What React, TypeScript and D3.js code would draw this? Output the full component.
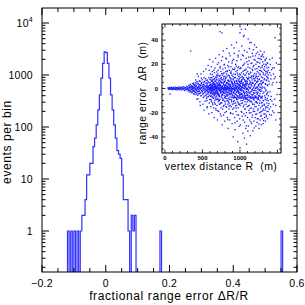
import React from "react";
import * as d3 from "d3";

// ---------- data ----------
const histStart = -0.125;
const histWidth = 0.005;
const histCounts = [0, 1, 0, 1, 0, 1, 0, 1, 0, 1, 2, 2, 4, 12, 12, 20, 20, 42, 61, 110, 213, 415, 870, 1670, 2800, 2700, 1670, 870, 415, 213, 110, 61, 35, 30, 25, 12, 4, 4, 4, 1, 0, 2, 1, 2, 0];
const outlierBins = [0.17, 0.55];
const outlierCounts = [1, 1];

const xTickValues = [-0.2, 0, 0.2, 0.4, 0.6];
const xTickLabels = ["\u22120.2", "0", "0.2", "0.4", "0.6"];
const yTickValues = [1, 10, 100, 1000, 10000];
const yTickLabels = ["1", "10", "100", "1000", "10^4"];
const insetXTicks = [0, 500, 1000];
const insetYTicks = [-40, -20, 0, 20, 40];

// inset scatter: pairs of [vertex distance R (m), range error dR (m)]
const scatterPts = [
  40,0.5, 45,-0.3, 50,0.2, 55,-0.8, 60,0.9, 65,-0.2, 67,-4.5, 70,0.4, 75,-0.6, 80,0.1, 85,1.0, 90,-0.4, 95,0.3, 100,-1.1, 105,0.6, 110,-0.2, 115,0.8, 120,-0.7, 125,0.2, 130,-0.3, 135,1.2, 140,-0.9, 145,0.4, 150,-0.1, 155,0.7, 160,-1.3, 165,0.3, 170,-0.5, 175,1.1, 180,-0.2, 185,0.6, 190,-1.0, 195,0.2, 200,-0.6, 205,1.3, 210,-0.4, 215,0.5, 220,-1.2, 225,0.9, 230,-0.1, 235,0.4, 240,-0.8, 245,1.5, 250,-0.3, 255,0.2, 260,-1.6, 265,1.0, 270,-0.5, 275,0.7, 280,-1.1, 285,0.3, 290,1.8, 295,-0.9, 300,0.1,
  305,1.2, 308,-2.1, 312,0.4, 315,-0.9, 318,2.6, 322,-1.5, 325,0.8, 328,-3.0, 331,1.9, 334,-0.3, 337,3.4, 340,-1.8, 343,31, 343,0.6, 346,-2.7, 349,1.4, 352,-0.5, 355,2.2, 358,-3.6, 361,0.9, 364,-1.2, 367,4.1, 370,-0.7, 373,1.7, 376,-2.4, 379,0.2, 382,3.0, 385,-4.2, 388,1.1, 391,-0.4, 394,2.8, 397,-1.9, 400,0.5, 403,-3.3, 406,4.6, 409,-0.8, 412,1.6, 415,-5.0, 418,2.3, 421,-1.4, 424,0.3, 427,3.7, 430,-2.6, 430,12, 433,1.0, 436,-0.2, 439,5.3, 440,-8.5, 442,-3.9, 445,0.7, 448,2.0, 451,-1.1, 454,-4.5, 457,3.2, 460,0.1, 463,-2.2, 466,1.8, 469,6.0, 470,-14, 472,-0.6, 475,-3.5, 478,2.5, 480,12, 481,0.9, 484,-5.8, 487,4.0, 490,-1.6, 493,0.4, 496,2.9, 499,-2.8, 502,1.3, 505,-0.9, 508,5.1, 511,-4.1, 514,0.6, 517,3.5, 520,-1.8, 520,9, 520,-18, 523,-6.3, 526,2.1, 529,0.2, 532,-3.0, 535,4.4, 538,-0.5, 541,1.6, 544,-2.5, 547,6.8, 550,-4.8, 553,0.9, 556,2.7, 559,-1.3, 560,-10, 560,-16, 562,-7.0, 565,3.9, 568,0.3, 571,-2.0, 574,5.6, 577,-3.6, 580,1.2, 583,-0.7, 586,4.8, 589,-5.5, 590,-12, 590,15, 592,2.4, 595,-1.0, 598,7.5,
  352,2.4, 357,-0.8, 361,-3.1, 366,1.5, 371,0.2, 377,-1.9, 383,4.4, 387,-4.9, 392,0.9, 398,-2.6, 401,3.1, 407,-0.3, 413,2.0, 419,-3.7, 422,5.5, 428,-1.2, 434,0.6, 437,-5.6, 444,3.9, 449,-2.3, 455,1.1, 458,6.4, 464,-3.9, 468,-0.1, 473,2.8, 479,-6.1, 483,4.7, 488,0.5, 494,-2.0, 497,7.2, 503,-4.6, 507,1.9, 512,-7.4, 516,3.0, 521,0.0, 527,5.8, 531,-3.4, 536,-1.1, 540,8.1, 545,-5.9, 549,2.2, 554,-8.3, 557,4.5, 561,-0.6, 566,6.9, 570,-4.4, 575,1.4, 579,-6.8, 584,9.0, 588,-2.7, 593,0.7, 596,-9.2,
  410,7, 425,-9, 445,10, 465,-11, 485,8.5, 505,-13, 515,14, 535,-10.5, 545,16, 565,-15, 575,19, 585,-21, 595,24,
  552,-1.5, 558,0.8, 563,2.1, 569,-2.6, 574,-0.4, 580,1.9, 585,-3.1, 591,0.3, 597,2.7, 602,-1.2, 608,3.4, 613,-3.8, 619,0.6, 624,-0.9, 630,2.4, 635,-2.0, 641,4.1, 646,0.1, 652,-4.3, 657,1.5, 663,-0.6, 668,3.0, 674,-2.9, 679,0.9, 685,-1.8, 690,4.6, 696,-3.4, 701,1.2, 707,-0.2, 712,2.8, 718,-4.8, 723,0.4, 729,3.7, 734,-1.6, 740,-3.0, 745,1.8, 751,4.9, 756,-0.8, 762,-2.3, 767,2.2, 773,0.0, 778,-4.0, 784,3.3, 789,-1.1, 795,5.2, 800,-3.7, 806,0.7, 811,2.6, 817,-2.1, 822,4.3, 828,-5.0, 833,1.0, 839,-0.5, 844,3.8, 850,-3.2, 855,5.6, 861,-1.4, 866,0.2, 872,-4.4, 877,2.9, 883,-2.6, 888,4.7, 894,-0.9, 899,-5.4, 905,1.7, 910,3.6, 916,-3.0, 921,0.5, 927,5.9, 932,-1.9, 938,-4.6, 943,2.3, 949,-0.3, 954,4.0, 960,-5.7, 965,1.4, 971,-2.4, 976,6.1, 982,0.8, 987,-3.5, 993,3.1, 998,-6.0, 1004,1.9, 1009,-1.0, 1015,4.5, 1020,-4.2, 1026,0.6, 1031,-6.4, 1037,2.6, 1042,5.0, 1048,-2.7, 1053,0.3, 1059,-5.1, 1064,3.4, 1070,-7.0, 1075,1.1, 1081,6.3, 1086,-3.9, 1092,-0.7, 1097,4.1,
  600,-2, 601,5, 603,-9, 604,1, 606,12, 607,-4, 609,0, 610,-15, 612,7, 613,-1, 615,3, 616,-6, 618,18, 619,-11, 621,2, 622,-3, 624,9, 625,-20, 627,4, 628,-7, 630,0, 631,14, 633,-2, 634,6, 636,-12, 637,1, 639,-5, 640,22, 642,-8, 643,3, 645,-1, 646,10, 648,-16, 649,5, 651,-3, 652,0, 654,8, 655,-24, 657,2, 658,-6, 660,13, 661,-1, 663,4, 664,-10, 666,1, 667,17, 669,-4, 670,-13, 672,6, 673,0, 675,-2, 676,25, 678,-7, 679,3, 681,-18, 682,9, 684,-1, 685,2, 687,-9, 688,11, 690,-3, 691,0, 693,-14, 694,7, 696,1, 697,-5, 699,20, 700,-26, 702,4, 703,-2, 705,12, 706,-8, 708,0, 709,15, 711,-4, 712,3, 714,-11, 715,1, 717,-19, 718,8, 720,-1, 721,5, 723,28, 724,-6, 726,2, 727,-13, 729,10, 730,-2, 732,0, 733,47, 735,-9, 736,18, 738,3, 739,-21, 741,-1, 742,6, 744,-4, 745,14, 747,-16, 748,1, 750,9, 751,-7, 753,0, 754,23, 756,-3, 757,-12, 759,5, 760,46, 762,-30, 763,2, 765,11, 766,-5, 768,0, 769,-17, 771,7, 772,16, 774,-2, 775,-9, 777,4, 778,31, 780,-1, 781,-22, 783,8, 784,3, 786,-14, 787,13, 789,0, 790,-6, 792,20, 793,-4, 795,1, 796,-27, 798,10, 799,-2,
  801,6, 802,-11, 804,17, 805,0, 807,-8, 808,3, 810,25, 811,-15, 813,-1, 814,9, 816,-5, 817,2, 819,-19, 820,12, 822,0, 823,-3, 825,33, 826,-10, 828,5, 829,1, 831,-24, 832,14, 834,-6, 835,-1, 837,19, 838,-13, 840,7, 841,0, 843,-33, 844,4, 846,-2, 847,11, 849,-8, 850,22, 852,1, 853,-17, 855,6, 856,-4, 858,15, 859,-12, 861,2, 862,0, 864,-26, 865,9, 867,-7, 868,27, 870,-1, 871,3, 873,-20, 874,13, 876,-5, 877,0, 879,18, 880,-9, 882,6, 883,-15, 885,1, 886,-3, 888,36, 889,-11, 891,8, 892,-2, 894,21, 895,-29, 897,4, 898,0, 900,-13, 901,16, 903,-6, 904,2, 906,-21, 907,10, 909,-1, 910,-40, 912,7, 913,24, 915,-8, 916,0, 918,-16, 919,12, 921,3, 922,-4, 924,29, 925,-10, 927,5, 928,-24, 930,1, 931,17, 933,-7, 934,-1, 936,-34, 937,9, 939,2, 940,-12, 942,20, 943,-5, 945,0, 946,14, 948,-19, 949,6, 951,-3, 952,38, 954,-14, 955,1, 957,-9, 958,23, 960,-2, 961,-27, 963,8, 964,4, 966,-11, 967,15, 969,-1, 970,-44, 972,11, 973,-6, 975,26, 976,-16, 978,3, 979,0, 981,-22, 982,18, 984,-4, 985,7, 987,-8, 988,31, 990,-13, 991,2, 993,-1, 994,12, 996,-25, 997,5, 999,-7, 1000,-49, 1000,46,
  603,3.5, 605,-6.5, 611,8.8, 614,-2.8, 617,0.4, 620,-9.6, 623,5.9, 626,-0.7, 629,11.5, 632,-4.1, 635,1.8, 638,-13.4, 641,7.3, 644,-1.6, 647,3.9, 650,-7.7, 653,15.2, 656,-3.3, 659,0.9, 662,-11.8, 665,6.2, 668,-5.1, 671,2.7, 674,9.4, 677,-16.5, 680,1.3, 683,-3.8, 686,7.6, 689,-0.2, 692,13.7, 695,-8.9, 698,4.2, 701,-2.1, 704,-18.3, 707,10.6, 710,0.5, 713,-6.0, 716,21.4, 719,-4.7, 722,2.4, 725,-9.9, 728,6.8, 731,-1.4, 734,16.9, 737,-12.6, 740,3.1, 743,-0.9, 746,8.2, 749,-22.7, 752,5.0, 755,-5.6, 758,12.3, 761,1.0, 764,-7.9, 767,26.2, 770,-2.5, 773,4.8, 776,-14.8, 779,0.3, 782,9.7, 785,-4.2, 788,19.6, 791,-10.3, 794,2.0, 797,-1.2, 800,-19.9, 803,7.1, 806,-6.6, 809,13.9, 812,0.8, 815,-3.0, 818,24.5, 821,-15.4, 824,4.5, 827,-8.4, 830,10.2, 833,-0.4, 836,-25.8, 839,6.4, 842,2.9, 845,-11.2, 848,17.8, 851,-5.3, 854,0.6, 857,29.1, 860,-9.0, 863,3.6, 866,-2.2, 869,-13.9, 872,8.7, 875,1.5, 878,-20.6, 881,14.4, 884,-4.4, 887,5.3, 890,-7.2, 893,11.0, 896,-0.6, 899,22.9, 902,-17.1, 905,3.4, 908,-3.9, 911,7.8, 914,-10.8, 917,0.1, 920,33.5, 923,-6.1, 926,15.7, 929,-1.8, 932,-28.4, 935,4.1, 938,9.2, 941,-14.3, 944,2.6, 947,-4.9, 950,18.5, 953,-8.1, 956,6.0, 959,-0.3, 962,-21.8, 965,12.7, 968,1.9, 971,-6.9, 974,27.4, 977,-12.0, 980,3.8, 983,-2.8, 986,9.9, 989,-31.2, 992,5.7, 995,0.4, 998,16.3,
  602,-0.5, 607,2.3, 612,-4.4, 618,1.1, 623,-2.2, 627,6.7, 633,-7.1, 638,0.9, 642,4.8, 648,-1.7, 653,-5.2, 657,3.3, 662,7.9, 667,-3.5, 672,-8.6, 676,1.6, 681,5.4, 687,-6.3, 691,0.0, 696,9.6, 700,-4.0, 705,2.5, 711,-9.4, 715,6.1, 720,-0.8, 724,3.7, 729,-6.7, 734,10.8, 738,-2.4, 743,0.7, 748,-11.6, 752,4.9, 757,7.4, 762,-5.5, 766,1.3, 771,-9.8, 776,12.1, 780,-3.1, 785,0.5, 790,5.9, 794,-7.6, 799,2.1, 804,-12.9, 808,8.4, 813,-1.0, 818,4.2, 822,-6.2, 827,14.6, 832,-3.6, 836,1.7, 841,-10.1, 846,6.6, 850,-0.1, 855,-14.7, 860,10.4, 864,2.8, 869,-4.8, 874,7.0, 878,-1.5, 883,12.6, 888,-9.7, 892,0.2, 897,5.1, 902,-5.8, 906,15.8, 911,-2.9, 916,3.0, 920,-12.4, 925,8.9, 930,-0.7, 934,-7.3, 939,11.7, 944,1.2, 948,-16.2, 953,6.3, 958,-3.2, 962,4.6, 967,-9.1, 972,17.2, 976,-1.9, 981,0.4, 986,-13.1, 990,8.0, 995,-5.0, 999,2.6,
  1001,9, 1003,-14, 1004,2, 1006,-30, 1008,17, 1009,-5, 1011,0, 1013,24, 1014,-10, 1016,6, 1018,-19, 1019,-2, 1020,49, 1021,13, 1023,-8, 1024,35, 1026,-1, 1028,4, 1029,-23, 1031,10, 1033,-12, 1034,1, 1036,19, 1038,-6, 1039,-37, 1041,8, 1043,3, 1044,-15, 1045,43, 1046,27, 1048,-3, 1049,12, 1051,-21, 1053,0, 1054,-9, 1056,44, 1058,15, 1059,-4, 1060,-41, 1061,-28, 1063,7, 1064,21, 1066,-11, 1068,2, 1069,-17, 1071,49, 1073,-6, 1074,11, 1076,-33, 1078,4, 1079,16, 1081,-13, 1083,-1, 1084,25, 1086,-20, 1088,9, 1089,-46, 1091,3, 1093,-8, 1094,30, 1096,-15, 1098,6, 1099,0,
  1101,-24, 1103,14, 1104,-5, 1106,20, 1108,-10, 1109,41, 1111,-2, 1113,-31, 1114,8, 1116,12, 1118,-18, 1119,1, 1121,23, 1123,-7, 1124,-14, 1126,33, 1128,4, 1129,-26, 1131,-3, 1133,17, 1134,-11, 1136,9, 1138,-39, 1139,0, 1141,26, 1143,-8, 1144,13, 1146,-20, 1148,5, 1149,38, 1151,-5, 1153,-16, 1154,10, 1156,-29, 1158,2, 1159,21, 1161,-12, 1163,7, 1164,-1, 1166,29, 1168,-22, 1169,15, 1171,-7, 1173,-35, 1174,4, 1176,18, 1178,-9, 1179,32, 1181,-17, 1183,1, 1184,11, 1186,-27, 1188,24, 1189,-4, 1191,-13, 1193,8, 1194,36, 1196,-19, 1198,3, 1199,-6,
  1201,16, 1203,-24, 1204,0, 1206,27, 1208,-11, 1209,9, 1211,-31, 1213,20, 1214,-2, 1216,-15, 1218,12, 1219,34, 1221,-8, 1223,5, 1224,-21, 1226,22, 1228,-5, 1229,-28, 1231,14, 1233,1, 1234,-12, 1236,30, 1238,-18, 1239,7, 1241,-3, 1243,25, 1244,-25, 1246,10, 1248,-9, 1249,18, 1251,-14, 1253,2, 1254,-33, 1256,28, 1258,-6, 1259,15, 1261,-20, 1263,4, 1264,21, 1266,-10, 1268,-26, 1269,12, 1271,-1, 1273,31, 1274,-16, 1276,6, 1278,-23, 1279,17, 1281,-7, 1283,-30, 1284,24, 1286,3, 1288,-12, 1289,14, 1291,-19, 1293,27, 1294,0, 1296,-8, 1298,19, 1299,-25,
  1301,9, 1303,-14, 1304,22, 1306,-4, 1308,-29, 1309,13, 1311,5, 1313,-17, 1314,26, 1316,-10, 1318,16, 1319,-21, 1321,1, 1323,30, 1324,-13, 1326,8, 1328,-24, 1329,18, 1331,-6, 1333,11, 1334,-18, 1336,23, 1338,-9, 1339,4, 1341,-27, 1343,14, 1344,-2, 1346,20, 1348,-15, 1349,7, 1351,-22, 1353,25, 1354,-5, 1356,10, 1358,-12, 1359,17, 1361,-19, 1363,3, 1364,-8, 1366,13, 1368,-25, 1369,21, 1371,-3, 1373,8, 1374,-14, 1376,15, 1378,-10,
  1002,-3.5, 1005,11.4, 1007,4.1, 1010,-7.8, 1012,16.9, 1015,-1.2, 1017,-12.4, 1020,6.8, 1022,1.5, 1025,-19.6, 1027,9.3, 1030,-4.6, 1032,27.7, 1035,0.8, 1037,-9.9, 1040,14.2, 1042,-26.1, 1045,3.6, 1047,-1.9, 1050,19.8, 1052,-13.7, 1055,7.5, 1057,-6.2, 1060,31.4, 1062,2.2, 1065,-17.0, 1067,10.9, 1070,-3.1, 1072,-22.5, 1075,5.8, 1077,15.3, 1080,-8.7, 1082,0.3, 1085,-30.8, 1087,12.8, 1090,-2.6, 1092,22.1, 1095,-11.1, 1097,4.4, 1100,-5.7, 1102,8.1, 1105,-35.3, 1107,17.6, 1110,-0.9, 1112,-14.4, 1115,25.9, 1117,3.2, 1120,-9.3, 1122,11.8, 1125,-20.2, 1127,6.4, 1130,-4.0, 1132,37.9, 1135,-16.5, 1137,1.0, 1140,13.5, 1142,-7.0, 1145,-27.6, 1147,20.7, 1150,2.9, 1152,-10.5, 1155,8.6, 1157,-2.3, 1160,-23.9, 1162,15.9, 1165,-5.4, 1167,4.7, 1170,-13.2, 1172,26.8, 1175,0.1, 1177,-18.9, 1180,9.8, 1182,-3.7, 1185,19.1, 1187,-8.2, 1190,-32.6, 1192,6.1, 1195,12.4, 1197,-1.4, 1200,-15.0, 1202,23.3, 1205,-6.9, 1207,3.9, 1210,-21.3, 1212,10.3, 1215,0.6, 1217,28.9, 1220,-11.7, 1222,5.5, 1225,-3.3, 1227,16.4, 1230,-25.0, 1232,8.3, 1235,-0.5, 1237,-9.1, 1240,21.6, 1242,-16.8, 1245,2.7, 1247,12.9, 1250,-5.9, 1252,-29.3, 1255,18.2, 1257,-1.6, 1260,7.7, 1262,-12.1, 1265,24.6, 1267,-4.3, 1270,0.9, 1272,-19.4, 1275,14.8, 1277,-8.0, 1280,4.0, 1282,26.3, 1285,-22.1, 1287,9.6, 1290,-2.0, 1292,-14.6, 1295,17.7, 1297,1.3, 1300,-6.4, 1302,28.2, 1305,-18.0, 1307,5.2, 1310,-10.0, 1312,11.6, 1315,-26.5, 1317,20.1, 1320,-3.0, 1322,7.2, 1325,-13.8, 1327,15.0, 1330,0.2, 1332,-20.9, 1335,24.0, 1337,-7.4, 1340,3.4, 1342,-16.0, 1345,12.2, 1347,-1.1, 1350,19.3, 1352,-23.4, 1355,6.5, 1357,-9.6, 1360,14.0, 1362,-4.1, 1365,21.2, 1367,-15.7, 1370,2.4, 1372,9.1, 1375,-19.0, 1377,11.3, 1380,-6.0, 1383,17.4, 1387,-12.5, 1390,3.7, 1394,-21.5, 1397,13.1, 1401,-2.7, 1404,19.9, 1408,-15.1, 1413,7.9, 1417,-6.6, 1422,15.5, 1426,-10.4, 1431,25.1, 1435,-18.6, 1440,4.8, 1446,12.0, 1451,-20.0, 1458,17.0, 1463,-8.8, 1470,9.5, 1478,-14.0, 1485,21.0, 1494,-4.9,
  1003,2.5, 1008,-1.3, 1013,5.7, 1018,-4.9, 1023,0.7, 1028,7.3, 1033,-6.8, 1038,3.0, 1043,-2.1, 1048,8.9, 1053,-7.6, 1058,1.6, 1063,-0.2, 1068,6.0, 1073,-8.4, 1078,2.8, 1083,4.9, 1088,-5.6, 1093,0.1, 1098,-9.0, 1103,7.7, 1108,-3.4, 1113,1.9, 1118,9.4, 1123,-6.0, 1128,0.5, 1133,-10.2, 1138,5.2, 1143,-2.9, 1148,3.5, 1153,-7.9, 1158,10.5, 1163,-0.8, 1168,4.4, 1173,-5.0, 1178,-1.7, 1183,8.2, 1188,-9.5, 1193,2.1, 1198,-3.6, 1203,6.7, 1208,-6.5, 1213,0.3, 1218,-10.8, 1223,9.9, 1228,1.2, 1233,-4.2, 1238,5.9, 1243,-8.1, 1248,3.3, 1253,-0.6, 1258,7.5, 1263,-6.3, 1268,11.2, 1273,-2.4, 1278,0.8, 1283,-7.2, 1288,6.4, 1293,-11.5, 1298,4.6,
  905,-7.5, 925,-7.2, 945,-7.8, 965,-7.0, 985,-7.4, 1005,-7.6, 1025,-7.1, 1045,-7.9, 1065,-7.3, 1085,-7.7, 1105,-7.2, 1125,-7.5, 1145,-7.0, 1165,-7.8, 1185,-7.4, 1205,-7.6, 1225,-7.1, 1245,-7.3,
  1385,6, 1392,-17, 1398,24, 1405,-9, 1412,11, 1420,-22, 1428,3, 1436,17, 1445,-13, 1455,8, 1467,42, 1475,-26, 1490,5,
];

// ---------- layout ----------
const W = 305, H = 305;
const M = { left: 42, right: 297, top: 8, bottom: 272 };
const INS = { left: 162, right: 281, top: 24, bottom: 153 };
const FONT = "'Liberation Sans', Arial, Helvetica, sans-serif";
const BLUE = "#3030ff";

export default function App() {
  const x = d3.scaleLinear().domain([-0.2, 0.6]).range([M.left, M.right]);
  const y = d3.scaleLog().domain([0.1627, 19420]).range([M.bottom, M.top]);
  const yv = (c: number) => (c > 0 ? y(c) : M.bottom + 3);

  const histPath = (() => {
    const p = d3.path();
    const x0 = histStart;
    p.moveTo(x(x0), M.bottom + 3);
    histCounts.forEach((c, i) => {
      const lo = x0 + i * histWidth;
      const hi = lo + histWidth;
      p.lineTo(x(lo), yv(c));
      p.lineTo(x(hi), yv(c));
    });
    p.lineTo(x(x0 + histCounts.length * histWidth), M.bottom + 3);
    outlierBins.forEach((lo, i) => {
      p.moveTo(x(lo), M.bottom + 3);
      p.lineTo(x(lo), yv(outlierCounts[i]));
      p.lineTo(x(lo + histWidth), yv(outlierCounts[i]));
      p.lineTo(x(lo + histWidth), M.bottom + 3);
    });
    return p.toString();
  })();

  const xMinor = d3.range(-0.2, 0.6001, 0.05).map((v) => +v.toFixed(3));
  const yMinor: number[] = [];
  for (let e = -1; e <= 4; e++) {
    for (let k = 1; k <= 9; k++) {
      const v = k * Math.pow(10, e);
      if (v >= 0.1627 && v <= 19420) yMinor.push(v);
    }
  }

  const ix = d3.scaleLinear().domain([-40, 1547]).range([INS.left, INS.right]);
  const iy = d3.scaleLinear().domain([-53.3, 53.3]).range([INS.bottom, INS.top]);
  const pts: [number, number][] = [];
  for (let i = 0; i < scatterPts.length; i += 2) pts.push([scatterPts[i], scatterPts[i + 1]]);
  const ixMinor = d3.range(0, 1501, 100);
  const iyMinor = d3.range(-50, 51, 5);

  return (
    <svg width={W} height={H} style={{ position: "absolute", left: 0, top: 0, background: "#fff" }} fontFamily={FONT}>
      <defs>
        <clipPath id="plotclip">
          <rect x={M.left} y={M.top} width={M.right - M.left} height={M.bottom - M.top} />
        </clipPath>
        <clipPath id="insclip">
          <rect x={INS.left} y={INS.top} width={INS.right - INS.left} height={INS.bottom - INS.top} />
        </clipPath>
      </defs>
      <rect x={0} y={0} width={W} height={H} fill="#fff" />

      <path d={histPath} fill="none" stroke={BLUE} strokeWidth={1.2} clipPath="url(#plotclip)" />

      <g stroke="#000" strokeWidth={1}>
        {xMinor.map((v, i) => {
          const major = Math.abs((v / 0.2) - Math.round(v / 0.2)) < 1e-6;
          const len = major ? 7 : 4;
          return (
            <g key={"xm" + i}>
              <line x1={x(v)} x2={x(v)} y1={M.bottom} y2={M.bottom - len} />
              <line x1={x(v)} x2={x(v)} y1={M.top} y2={M.top + len} />
            </g>
          );
        })}
        {yMinor.map((v, i) => {
          const major = Math.abs(Math.log10(v) - Math.round(Math.log10(v))) < 1e-9;
          const len = major ? 7 : 3.5;
          return (
            <g key={"ym" + i}>
              <line x1={M.left} x2={M.left + len} y1={y(v)} y2={y(v)} />
              <line x1={M.right} x2={M.right - len} y1={y(v)} y2={y(v)} />
            </g>
          );
        })}
      </g>
      <rect x={M.left} y={M.top} width={M.right - M.left} height={M.bottom - M.top} fill="none" stroke="#000" strokeWidth={1} />

      <g fontSize={10.5} fill="#000" letterSpacing={0.3}>
        {xTickValues.map((v, i) => (
          <text key={"xl" + i} x={x(v)} y={287} textAnchor="middle">{xTickLabels[i]}</text>
        ))}
        {yTickValues.map((v, i) =>
          yTickLabels[i] === "10^4" ? (
            <text key={"yl" + i} x={33} y={y(v) + 4} textAnchor="end">
              10<tspan fontSize={7} dy={-5}>4</tspan>
            </text>
          ) : (
            <text key={"yl" + i} x={33} y={y(v) + 4} textAnchor="end">{yTickLabels[i]}</text>
          )
        )}
      </g>
      <text x={169} y={300} textAnchor="middle" fontSize={12} letterSpacing={0.6}>fractional range error ΔR/R</text>
      <text transform={`translate(11,142) rotate(-90)`} textAnchor="middle" fontSize={12} letterSpacing={0.6}>events per bin</text>

      <rect x={INS.left} y={INS.top} width={INS.right - INS.left} height={INS.bottom - INS.top} fill="#fff" />
      <g clipPath="url(#insclip)">
        {pts.map((d, i) => (
          <rect key={"p" + i} x={ix(d[0]) - 0.65} y={iy(d[1]) - 0.65} width={1.3} height={1.3} fill="#1a1aff" />
        ))}
      </g>
      <g stroke="#000" strokeWidth={0.8}>
        {ixMinor.map((v, i) => {
          const len = v % 500 === 0 ? 3.5 : 2;
          return (
            <g key={"ixm" + i}>
              <line x1={ix(v)} x2={ix(v)} y1={INS.bottom} y2={INS.bottom - len} />
              <line x1={ix(v)} x2={ix(v)} y1={INS.top} y2={INS.top + len} />
            </g>
          );
        })}
        {iyMinor.map((v, i) => {
          const len = v % 20 === 0 ? 3.5 : 2;
          return (
            <g key={"iym" + i}>
              <line x1={INS.left} x2={INS.left + len} y1={iy(v)} y2={iy(v)} />
              <line x1={INS.right} x2={INS.right - len} y1={iy(v)} y2={iy(v)} />
            </g>
          );
        })}
      </g>
      <rect x={INS.left} y={INS.top} width={INS.right - INS.left} height={INS.bottom - INS.top} fill="none" stroke="#000" strokeWidth={1} />
      <g fontSize={6} fontWeight="bold" fill="#000">
        {insetXTicks.map((v, i) => (
          <text key={"ixl" + i} x={ix(v)} y={160} textAnchor="middle">{v}</text>
        ))}
        {insetYTicks.map((v, i) => (
          <text key={"iyl" + i} x={158} y={iy(v) + 2.2} textAnchor="end">{v}</text>
        ))}
      </g>
      <text x={221} y={170} textAnchor="middle" fontSize={10.5} letterSpacing={0.45} style={{ whiteSpace: "pre" }}>{"vertex distance R  (m)"}</text>
      <text transform={`translate(146,93) rotate(-90)`} textAnchor="middle" fontSize={10.5} letterSpacing={0.45} style={{ whiteSpace: "pre" }}>{"range error  ΔR  (m)"}</text>
    </svg>
  );
}
